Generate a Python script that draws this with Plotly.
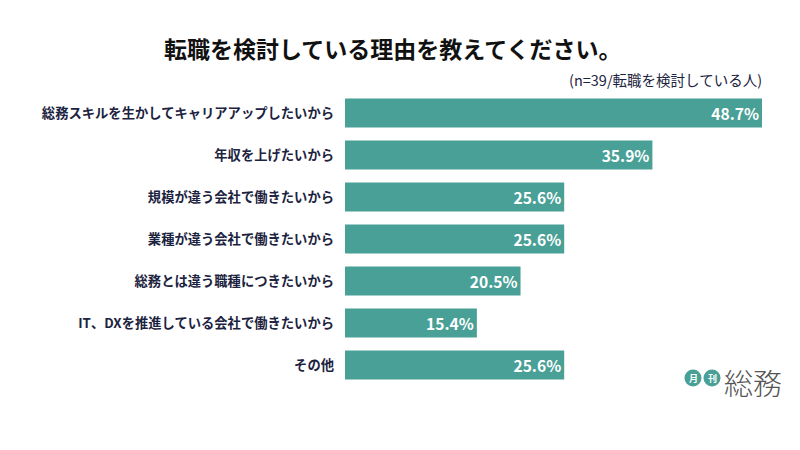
import plotly.graph_objects as go

categories = [
    "総務スキルを生かしてキャリアアップしたいから",
    "年収を上げたいから",
    "規模が違う会社で働きたいから",
    "業種が違う会社で働きたいから",
    "総務とは違う職種につきたいから",
    "IT、DXを推進している会社で働きたいから",
    "その他",
]
values = [48.7, 35.9, 25.6, 25.6, 20.5, 15.4, 25.6]

title_text = "転職を検討している理由を教えてください。"
note_text = "(n=39/転職を検討している人)"

FONT = "Noto Sans CJK JP"
NAVY = "#1c2340"
TEAL = "#48a096"

L, R, T, B = 345, 38, 92, 64
plot_w = 800 - L - R
plot_h = 450 - T - B

# helpers: pixel position -> paper coords
def px(xpix):
    return (xpix - L) / plot_w

def py(ypix):
    return (450 - B - ypix) / plot_h

fig = go.Figure()
fig.add_trace(go.Bar(
    y=categories,
    x=values,
    orientation="h",
    marker=dict(color=TEAL, line=dict(width=0)),
    text=[f"{v:.1f}%" for v in values],
    textposition="inside",
    insidetextanchor="end",
    textfont=dict(family=FONT, size=17, color="white", weight="bold"),
    hoverinfo="skip",
))

fig.update_layout(
    width=800, height=450,
    margin=dict(l=L, r=R, t=T, b=B),
    paper_bgcolor="white", plot_bgcolor="white",
    showlegend=False,
    bargap=0.31,
    font=dict(family=FONT, color=NAVY),
    xaxis=dict(range=[0, 48.7], visible=False, fixedrange=True),
    yaxis=dict(autorange="reversed", showgrid=False, zeroline=False, showline=False,
               ticks="", ticklabelstandoff=10, fixedrange=True,
               tickfont=dict(family=FONT, size=13.3, color=NAVY, weight="bold")),
    uniformtext=dict(minsize=10, mode="show"),
)

fig.add_annotation(text=title_text, xref="paper", yref="paper", x=px(392), y=py(48),
                   xanchor="center", yanchor="middle", showarrow=False,
                   font=dict(family=FONT, size=23, color="#111111", weight="bold"))
fig.add_annotation(text=note_text, xref="paper", yref="paper", x=px(764), y=py(80),
                   xanchor="right", yanchor="middle", showarrow=False,
                   font=dict(family=FONT, size=14.5, color=NAVY))

# logo
for cx, ch in [(693, "月"), (712, "刊")]:
    fig.add_shape(type="circle", xref="paper", yref="paper",
                  x0=px(cx - 8.5), x1=px(cx + 8.5), y0=py(378 + 8.5), y1=py(378 - 8.5),
                  fillcolor=TEAL, line=dict(width=0))
    fig.add_annotation(text=ch, xref="paper", yref="paper", x=px(cx), y=py(378),
                       xanchor="center", yanchor="middle", showarrow=False,
                       font=dict(family=FONT, size=9, color="white", weight="bold"))
fig.add_annotation(text="総務", xref="paper", yref="paper", x=px(722), y=py(382),
                   xanchor="left", yanchor="middle", showarrow=False,
                   font=dict(family=FONT, size=29, color="#555555", weight=300))

fig.write_html("out.html", config={"displayModeBar": False},
               post_script="document.body.style.margin='0';")
